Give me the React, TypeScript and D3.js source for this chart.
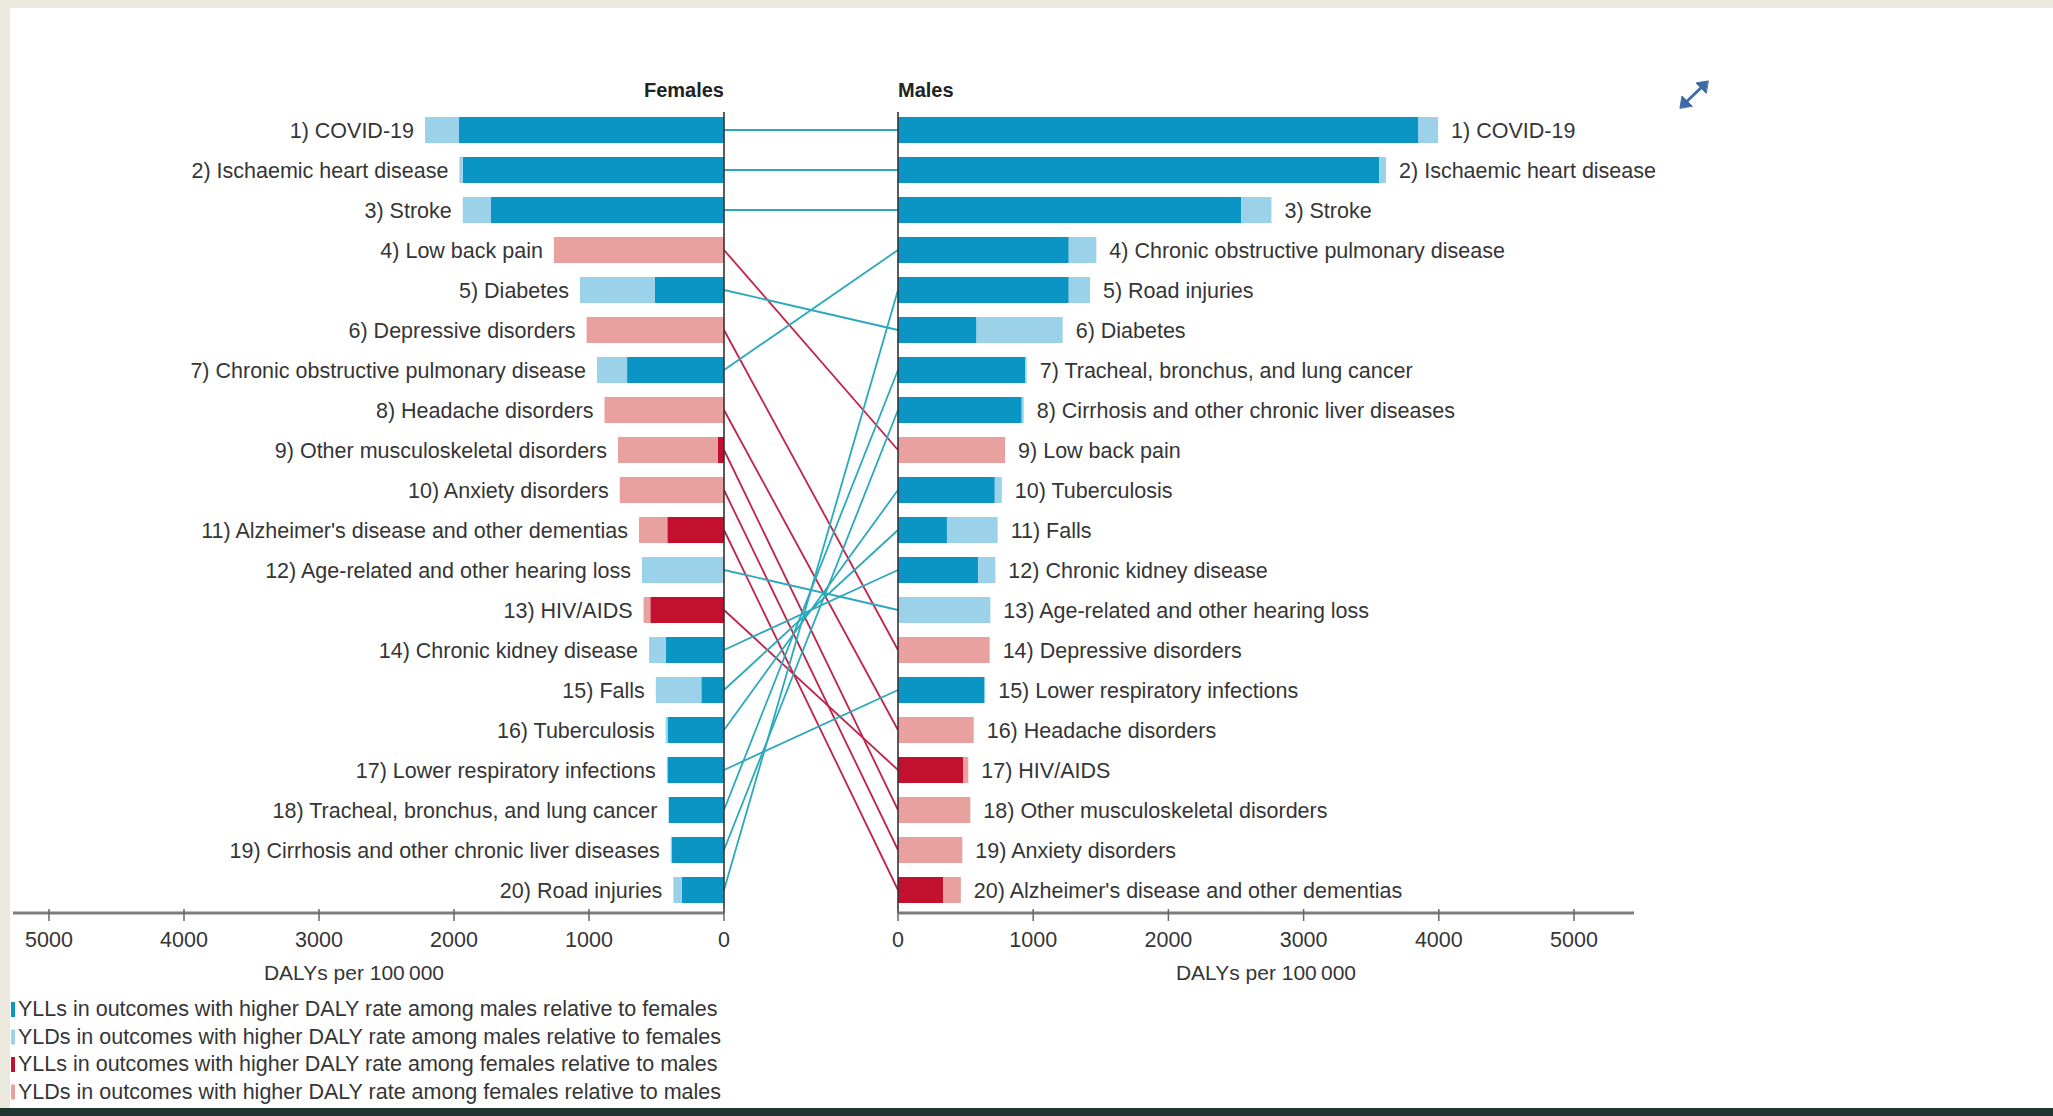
import React from "react";
import * as d3 from "d3";

// ---------- data ----------
const femaleCauses = [
  "COVID-19",
  "Ischaemic heart disease",
  "Stroke",
  "Low back pain",
  "Diabetes",
  "Depressive disorders",
  "Chronic obstructive pulmonary disease",
  "Headache disorders",
  "Other musculoskeletal disorders",
  "Anxiety disorders",
  "Alzheimer's disease and other dementias",
  "Age-related and other hearing loss",
  "HIV/AIDS",
  "Chronic kidney disease",
  "Falls",
  "Tuberculosis",
  "Lower respiratory infections",
  "Tracheal, bronchus, and lung cancer",
  "Cirrhosis and other chronic liver diseases",
  "Road injuries",
];
const femaleYLL = [1963, 1935, 1726, 0, 514, 0, 718, 0, 45, 0, 420, 0, 546, 432, 168, 415, 418, 408, 385, 312];
const femaleYLD = [252, 25, 209, 1260, 553, 1018, 223, 885, 740, 772, 210, 608, 50, 123, 337, 17, 6, 4, 10, 63];

const maleCauses = [
  "COVID-19",
  "Ischaemic heart disease",
  "Stroke",
  "Chronic obstructive pulmonary disease",
  "Road injuries",
  "Diabetes",
  "Tracheal, bronchus, and lung cancer",
  "Cirrhosis and other chronic liver diseases",
  "Low back pain",
  "Tuberculosis",
  "Falls",
  "Chronic kidney disease",
  "Age-related and other hearing loss",
  "Depressive disorders",
  "Lower respiratory infections",
  "Headache disorders",
  "HIV/AIDS",
  "Other musculoskeletal disorders",
  "Anxiety disorders",
  "Alzheimer's disease and other dementias",
];
const maleYLL = [3850, 3560, 2538, 1263, 1263, 581, 940, 915, 0, 716, 362, 594, 0, 0, 640, 0, 481, 0, 0, 333];
const maleYLD = [145, 50, 224, 204, 157, 637, 12, 15, 792, 52, 375, 126, 683, 678, 5, 560, 39, 535, 476, 132];

const maleHigherCauses = [
  "COVID-19",
  "Ischaemic heart disease",
  "Stroke",
  "Diabetes",
  "Chronic obstructive pulmonary disease",
  "Age-related and other hearing loss",
  "Chronic kidney disease",
  "Falls",
  "Tuberculosis",
  "Lower respiratory infections",
  "Tracheal, bronchus, and lung cancer",
  "Cirrhosis and other chronic liver diseases",
  "Road injuries",
];

const xTicks = [0, 1000, 2000, 3000, 4000, 5000];
const axisTitle = "DALYs per 100\u2009000";
const legendLabels = [
  "YLLs in outcomes with higher DALY rate among males relative to females",
  "YLDs in outcomes with higher DALY rate among males relative to females",
  "YLLs in outcomes with higher DALY rate among females relative to males",
  "YLDs in outcomes with higher DALY rate among females relative to males",
];

// ---------- styles ----------
const W = 2053;
const H = 1116;
const FONT = "'Liberation Sans', Arial, sans-serif";
const TEXT = "#353535";
const C = {
  yllM: "#0b95c5",
  yldM: "#9bd2e9",
  yllF: "#c4102f",
  yldF: "#e8a19e",
  lineM: "#2aa9bb",
  lineF: "#c2224a",
};
const legendColors = [C.yllM, C.yldM, C.yllF, C.yldF];
const LABEL_FS = 21.5;

export default function App() {
  const y = d3
    .scaleBand<number>()
    .domain(d3.range(20))
    .range([110, 910])
    .paddingInner(0.35)
    .paddingOuter(0.175);
  const bw = y.bandwidth();
  const cy = (i: number) => (y(i) as number) + bw / 2;

  const xF = d3.scaleLinear().domain([0, 5000]).range([724, 49]);
  const xM = d3.scaleLinear().domain([0, 5000]).range([898, 1574]);

  const isMale = (c: string) => maleHigherCauses.includes(c);
  const axisY = 913;

  return (
    <svg
      width={W}
      height={H}
      style={{ position: "absolute", left: 0, top: 0, display: "block", background: "#fff" }}
      fontFamily={FONT}
    >
      {/* page frame */}
      <rect x={0} y={0} width={W} height={8} fill="#ebe8dd" />
      <rect x={0} y={0} width={10} height={H} fill="#ebe8dd" />
      <rect x={0} y={1108} width={W} height={8} fill="#1e3530" />

      {/* connecting lines */}
      {femaleCauses.map((c, i) => {
        const j = maleCauses.indexOf(c);
        return (
          <line
            key={"l" + i}
            x1={xF(0)}
            y1={cy(i)}
            x2={xM(0)}
            y2={cy(j)}
            stroke={isMale(c) ? C.lineM : C.lineF}
            strokeWidth={1.8}
          />
        );
      })}

      {/* female bars */}
      {femaleCauses.map((c, i) => {
        const m = isMale(c);
        const yll = femaleYLL[i];
        const yld = femaleYLD[i];
        return (
          <g key={"f" + i}>
            <rect x={xF(yll)} y={y(i)} width={xF(0) - xF(yll)} height={bw} fill={m ? C.yllM : C.yllF} />
            <rect x={xF(yll + yld)} y={y(i)} width={xF(yll) - xF(yll + yld)} height={bw} fill={m ? C.yldM : C.yldF} />
            <text x={xF(yll + yld) - 11} y={cy(i) + 7.5} textAnchor="end" fontSize={LABEL_FS} fill={TEXT}>
              {`${i + 1}) ${c}`}
            </text>
          </g>
        );
      })}

      {/* male bars */}
      {maleCauses.map((c, i) => {
        const m = isMale(c);
        const yll = maleYLL[i];
        const yld = maleYLD[i];
        return (
          <g key={"m" + i}>
            <rect x={xM(0)} y={y(i)} width={xM(yll) - xM(0)} height={bw} fill={m ? C.yllM : C.yllF} />
            <rect x={xM(yll)} y={y(i)} width={xM(yll + yld) - xM(yll)} height={bw} fill={m ? C.yldM : C.yldF} />
            <text x={xM(yll + yld) + 13} y={cy(i) + 7.5} textAnchor="start" fontSize={LABEL_FS} fill={TEXT}>
              {`${i + 1}) ${c}`}
            </text>
          </g>
        );
      })}

      {/* zero lines */}
      <line x1={xF(0)} x2={xF(0)} y1={112} y2={axisY} stroke="#333" strokeWidth={1.6} />
      <line x1={xM(0)} x2={xM(0)} y1={112} y2={axisY} stroke="#333" strokeWidth={1.6} />

      {/* titles */}
      <text x={xF(0)} y={97} textAnchor="end" fontSize={20} fontWeight="bold" fill="#222">
        Females
      </text>
      <text x={xM(0)} y={97} textAnchor="start" fontSize={20} fontWeight="bold" fill="#222">
        Males
      </text>

      {/* x axes */}
      <line x1={13} x2={xF(0)} y1={axisY} y2={axisY} stroke="#7d7d7d" strokeWidth={3} />
      <line x1={xM(0)} x2={1634} y1={axisY} y2={axisY} stroke="#7d7d7d" strokeWidth={3} />
      {xTicks.map((t) => (
        <g key={"tf" + t}>
          <line x1={xF(t)} x2={xF(t)} y1={axisY - 4} y2={axisY + 8} stroke="#666" strokeWidth={1.5} />
          <text x={xF(t)} y={947} textAnchor="middle" fontSize={21.5} fill={TEXT}>
            {t}
          </text>
        </g>
      ))}
      {xTicks.map((t) => (
        <g key={"tm" + t}>
          <line x1={xM(t)} x2={xM(t)} y1={axisY - 4} y2={axisY + 8} stroke="#666" strokeWidth={1.5} />
          <text x={xM(t)} y={947} textAnchor="middle" fontSize={21.5} fill={TEXT}>
            {t}
          </text>
        </g>
      ))}
      <text x={354} y={980} textAnchor="middle" fontSize={21} fill={TEXT}>
        {axisTitle}
      </text>
      <text x={1266} y={980} textAnchor="middle" fontSize={21} fill={TEXT}>
        {axisTitle}
      </text>

      {/* legend */}
      {legendLabels.map((l, i) => (
        <g key={"lg" + i}>
          <rect x={11} y={1002 + i * 27.5} width={4} height={15} fill={legendColors[i]} />
          <text x={18} y={1016 + i * 27.5} fontSize={21.5} fill={TEXT}>
            {l}
          </text>
        </g>
      ))}

      {/* expand icon */}
      <g stroke="#3f6aa8" strokeWidth={3} fill="#3f6aa8" strokeLinecap="round">
        <line x1={1684} y1={104} x2={1704} y2={85} />
        <path d="M1708,81 L1696,83 L1706,93 Z" strokeWidth={1} />
        <path d="M1680,108 L1682,96 L1692,106 Z" strokeWidth={1} />
      </g>
    </svg>
  );
}
